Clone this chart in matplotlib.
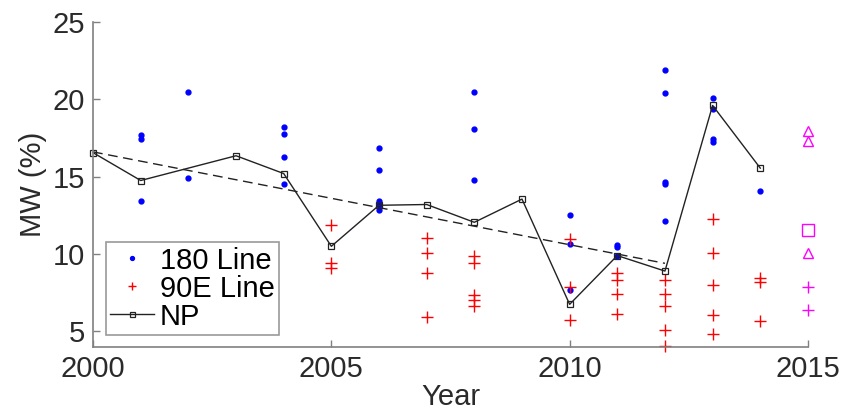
import matplotlib
matplotlib.use("Agg")
import matplotlib.pyplot as plt

plt.rcParams['font.family'] = ['Liberation Sans', 'DejaVu Sans']

# NP index per year (no value for 2002)
np_years = [2000, 2001, 2003, 2004, 2005, 2006, 2007, 2008, 2009, 2010, 2011, 2012, 2013, 2014]
np_vals = [16.55, 14.75, 16.35, 15.2, 10.5, 13.15, 13.2, 12.05, 13.55, 6.75, 9.9, 8.9, 19.6, 15.55]

# trend of NP over 2000-2012
trend_years = [2000, 2012]
trend_vals = [16.6, 9.4]

# 180 Line samples
blue_years = [2001, 2001, 2001,
              2002, 2002,
              2004, 2004, 2004, 2004,
              2006, 2006, 2006, 2006, 2006,
              2008, 2008, 2008,
              2010, 2010, 2010,
              2011, 2011, 2011,
              2012, 2012, 2012, 2012, 2012,
              2013, 2013, 2013, 2013,
              2014]
blue_vals = [17.7, 17.45, 13.45,
             20.45, 14.9,
             18.2, 17.75, 16.25, 14.55,
             16.85, 15.45, 13.45, 13.2, 12.85,
             20.45, 18.1, 14.8,
             12.55, 10.65, 7.7,
             10.6, 10.45, 9.9,
             21.9, 20.4, 14.65, 14.5, 12.15,
             20.05, 19.35, 17.4, 17.25,
             14.05]

# 90E Line samples
red_years = [2005, 2005, 2005,
             2007, 2007, 2007, 2007,
             2008, 2008, 2008, 2008, 2008,
             2010, 2010, 2010,
             2011, 2011, 2011, 2011,
             2012, 2012, 2012, 2012, 2012,
             2013, 2013, 2013, 2013, 2013,
             2014, 2014, 2014]
red_vals = [11.9, 9.4, 9.1,
            11.05, 10.05, 8.75, 5.95,
            9.9, 9.45, 7.35, 7.0, 6.65,
            10.95, 7.85, 5.75,
            8.75, 8.3, 7.4, 6.15,
            8.3, 7.45, 6.65, 5.1, 4.05,
            12.25, 10.05, 8.0, 6.05, 4.85,
            8.45, 8.2, 5.7]

# 2015 values
tri_year = [2015, 2015, 2015]
tri_vals = [17.95, 17.3, 10.05]
sq_year = [2015]
sq_vals = [11.55]
plus_year = [2015, 2015]
plus_vals = [7.9, 6.4]

fig = plt.figure(figsize=(8.46, 4.2), dpi=100)
ax = fig.add_axes([0.110, 0.174, 0.845, 0.774])

ax.plot(blue_years, blue_vals, '.', color='#0000ff', markersize=7,
        label='180 Line', clip_on=False)
ax.plot(red_years, red_vals, '+', color='#ff0000', markersize=8,
        markeredgewidth=1.0, label='90E Line', clip_on=False)
ax.plot(np_years, np_vals, '-s', color='#222222', linewidth=1.0,
        markersize=4.5, markerfacecolor='none', markeredgewidth=0.9,
        label='NP', clip_on=False)
ax.plot(trend_years, trend_vals, '--', color='#222222', linewidth=1.0,
        dashes=(7, 4))

ax.plot(tri_year, tri_vals, '^', color='#ff00ff', markersize=7,
        markerfacecolor='none', markeredgewidth=1.0, clip_on=False)
ax.plot(sq_year, sq_vals, 's', color='#ff00ff', markersize=8.5,
        markerfacecolor='none', markeredgewidth=1.0, clip_on=False)
ax.plot(plus_year, plus_vals, '+', color='#ff00ff', markersize=8,
        markeredgewidth=1.0, clip_on=False)

ax.set_xlim(2000, 2015)
ax.set_ylim(4, 25)
ax.set_xticks([2000, 2005, 2010, 2015])
ax.set_yticks([5, 10, 15, 20, 25])

for side in ['top', 'right']:
    ax.spines[side].set_visible(False)
for side in ['left', 'bottom']:
    ax.spines[side].set_color('#808080')
    ax.spines[side].set_linewidth(1.2)
ax.tick_params(direction='in', length=5, width=1, color='#808080',
               labelsize=21, labelcolor='#2a2a2a', pad=6)

ax.set_xlabel('Year', fontsize=21, color='#2a2a2a', labelpad=0)
ax.set_ylabel('MW (%)', fontsize=21, color='#2a2a2a', labelpad=4)

leg = ax.legend(loc='lower left', bbox_to_anchor=(0.018, 0.037),
                borderaxespad=0, fontsize=21, frameon=True, fancybox=False,
                handlelength=1.5, handletextpad=0.2, borderpad=0.15,
                labelspacing=0.0, markerscale=0.8)
leg.get_frame().set_edgecolor('#808080')
leg.get_frame().set_linewidth(1.2)

fig.savefig('out.png', dpi=100)
